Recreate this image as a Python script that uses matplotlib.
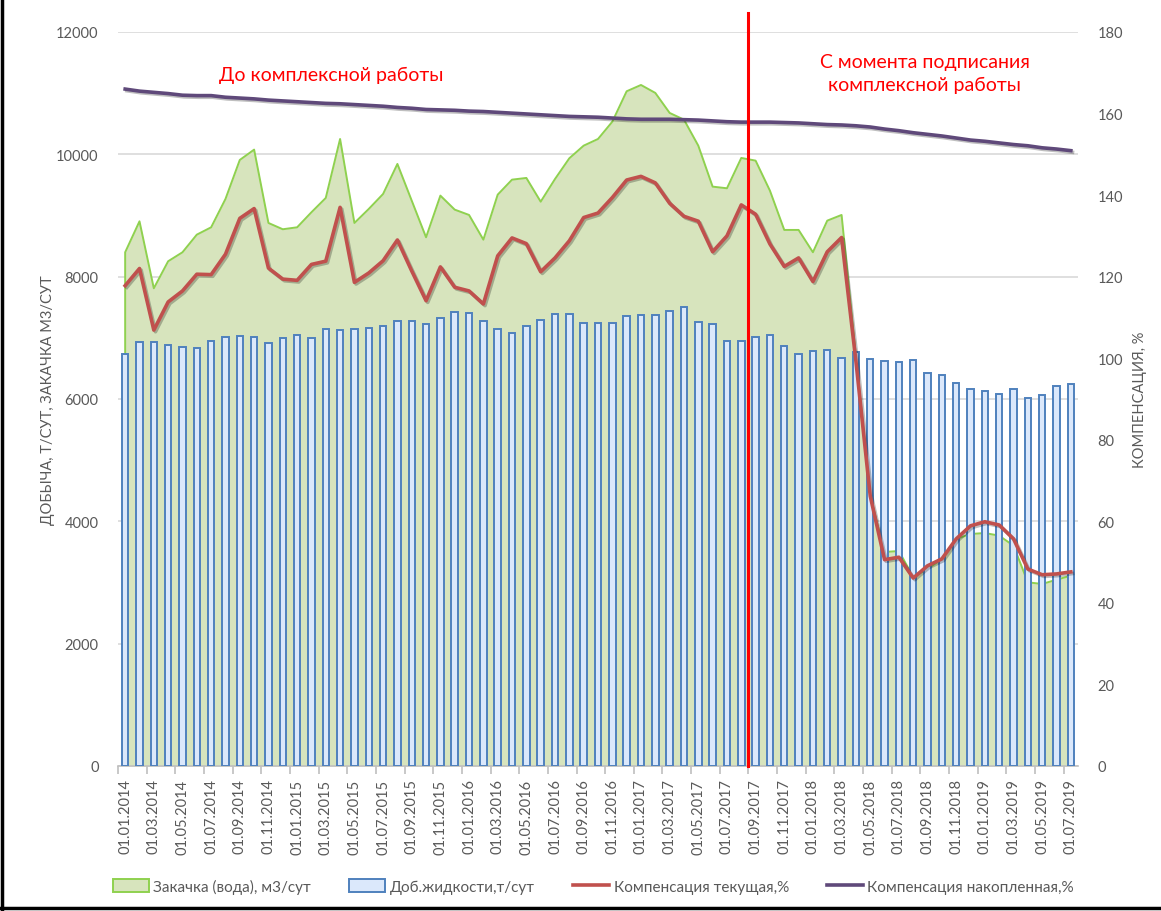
import matplotlib
matplotlib.use("Agg")
import matplotlib.pyplot as plt
import matplotlib.patheffects as pe
from matplotlib.patches import Patch
from matplotlib.lines import Line2D
import numpy as np

plt.rcParams['font.family'] = ['Lato', 'DejaVu Sans']

# ---------------- data ----------------
months = [f"01.{m:02d}.{y}" for y in range(2014, 2020) for m in range(1, 13)][:67]

injection = [8399, 8905, 7810, 8252, 8399, 8687, 8807, 9270, 9908, 10077,
             8878, 8775, 8807, 9053, 9287, 10251, 8878, 9107, 9352, 9843,
             9243, 8644, 9325, 9096, 9009, 8605, 9341, 9586, 9614, 9226,
             9597, 9936, 10142, 10251, 10534, 11031, 11134, 11004, 10677, 10567,
             10142, 9472, 9445, 9941, 9897, 9406, 8764, 8764, 8399, 8916,
             9009, 6700, 4414, 3499, 3515, 3090, 3221, 3384, 3711, 3793,
             3809, 3766, 3602, 3003, 2976, 3046, 3111]

liquid = [6736, 6927, 6927, 6878, 6851, 6834, 6954, 7014, 7030, 7014,
          6911, 6998, 7047, 6998, 7140, 7124, 7140, 7167, 7200, 7276,
          7276, 7232, 7320, 7418, 7401, 7276, 7140, 7080, 7189, 7292,
          7390, 7390, 7238, 7249, 7238, 7357, 7374, 7374, 7434, 7510,
          7259, 7221, 6954, 6943, 7014, 7047, 6862, 6736, 6785, 6802,
          6676, 6774, 6660, 6622, 6605, 6633, 6431, 6388, 6262, 6159,
          6126, 6077, 6170, 6017, 6061, 6218, 6246]

comp_current = [117.8, 122.0, 106.9, 113.8, 116.5, 120.6, 120.5, 125.5, 134.3, 136.7,
                122.1, 119.4, 119.1, 123.0, 123.8, 137.0, 118.6, 120.9, 123.9, 129.0,
                121.4, 114.1, 122.4, 117.4, 116.5, 113.3, 125.1, 129.5, 128.1, 121.2,
                124.6, 128.8, 134.5, 135.6, 139.4, 143.7, 144.6, 143.0, 138.0, 134.8,
                133.6, 126.1, 130.0, 137.6, 135.3, 128.0, 122.5, 124.6, 118.8, 126.1,
                129.6, 99.3, 66.2, 50.6, 51.2, 46.1, 49.1, 50.8, 55.7, 58.9,
                59.9, 59.1, 55.7, 48.3, 46.9, 47.1, 47.6]

comp_accum = [166.0, 165.5, 165.2, 164.9, 164.5, 164.4, 164.4, 164.0, 163.8, 163.6,
              163.3, 163.1, 162.9, 162.7, 162.5, 162.4, 162.2, 162.0, 161.8, 161.5,
              161.3, 161.0, 160.9, 160.8, 160.6, 160.5, 160.3, 160.1, 159.9, 159.7,
              159.5, 159.3, 159.2, 159.1, 158.9, 158.7, 158.6, 158.6, 158.6, 158.5,
              158.4, 158.2, 158.0, 157.9, 157.9, 157.9, 157.8, 157.7, 157.5, 157.3,
              157.2, 157.0, 156.7, 156.2, 155.8, 155.3, 154.9, 154.5, 154.0, 153.5,
              153.2, 152.8, 152.4, 152.1, 151.6, 151.3, 150.9]

left_ticks = [0, 2000, 4000, 6000, 8000, 10000, 12000]
right_ticks = [0, 20, 40, 60, 80, 100, 120, 140, 160, 180]
signing_pos = 43.5  # between 01.08.2017 and 01.09.2017

legend_labels = ["Закачка (вода), м3/сут", "Доб.жидкости,т/сут",
                 "Компенсация текущая,%", "Компенсация накопленная,%"]

# ---------------- styles ----------------
GRAY = '#595959'
GREEN_FILL = '#d7e4bd'
GREEN_LINE = '#8fd14f'
BAR_FACE = '#dbe8fb'
BAR_EDGE = '#4f81bd'
RED = '#c0504d'
PURPLE = '#5f497a'

fig = plt.figure(figsize=(11.61, 9.12), dpi=100)
ax = fig.add_axes([118/1161, 1-767/912, (1078-118)/1161, (767-33)/912])

x = np.arange(len(months))

# injection area
ax.fill_between(x, 0, injection, color=GREEN_FILL, lw=0, zorder=1)
ax.plot(np.r_[x[0], x, x[-1]], np.r_[0, injection, 0], color=GREEN_LINE, lw=1.4, zorder=2)

# liquid bars
ax.bar(x, liquid, width=0.45, color=BAR_FACE, edgecolor=BAR_EDGE, lw=1.4, zorder=3)

ax.set_xlim(-0.5, len(months) - 0.5)
ax.set_ylim(0, 12000)
ax.set_yticks(left_ticks)
ax.set_yticklabels([str(t) for t in left_ticks])
ax.yaxis.grid(True, color='#d9d9d9', lw=1.2, zorder=0)
ax.set_axisbelow(True)
for s in ['top', 'right', 'left']:
    ax.spines[s].set_visible(False)
ax.spines['bottom'].set_color('#bfbfbf')
ax.spines['bottom'].set_linewidth(1.2)

ax.set_xticks(x[::2])
ax.set_xticklabels(months[::2], rotation=90, color=GRAY, fontsize=10.5)
ax.tick_params(axis='x', which='major', length=0, pad=9)
ax.set_xticks(np.arange(-0.5, len(months), 2), minor=True)
ax.tick_params(axis='x', which='minor', length=6, color='#bfbfbf', width=1.2)
ax.tick_params(axis='y', length=0, pad=14, labelcolor=GRAY, labelsize=10.5)
ax.set_ylabel("ДОБЫЧА, Т/СУТ, ЗАКАЧКА М3/СУТ", color=GRAY, fontsize=10.5, labelpad=1)

# secondary axis
ax2 = ax.twinx()
ax2.set_ylim(0, 180)
ax2.set_yticks(right_ticks)
ax2.set_yticklabels([str(t) for t in right_ticks])
ax2.tick_params(axis='y', length=0, pad=14, labelcolor=GRAY, labelsize=10.5)
for s in ax2.spines.values():
    s.set_visible(False)
ax2.set_ylabel("КОМПЕНСАЦИЯ, %", color=GRAY, fontsize=10.5, labelpad=7)

shadow = [pe.SimpleLineShadow(offset=(1.2, -1.2), alpha=0.25, shadow_color='#000000'), pe.Normal()]
ax2.plot(x, comp_current, color=RED, lw=2.6, solid_joinstyle='round', path_effects=shadow, zorder=4)
ax2.plot(x, comp_accum, color=PURPLE, lw=2.6, solid_joinstyle='round', path_effects=shadow, zorder=4)

# signing line
ax2.plot([signing_pos, signing_pos], [0, 180 * (767 - 14) / 734], color='#ff0000', lw=2.2,
         clip_on=False, zorder=5)

ax2.text(14.4, 169.7, "До комплексной работы", color='#ff0000', fontsize=14,
         ha='center', va='center')
ax2.text(55.8, 170.0, "С момента подписания\nкомплексной работы", color='#ff0000',
         fontsize=14, ha='center', va='center', linespacing=1.45)

handles = [Patch(facecolor=GREEN_FILL, edgecolor=GREEN_LINE, lw=1.4),
           Patch(facecolor=BAR_FACE, edgecolor=BAR_EDGE, lw=1.4),
           Line2D([], [], color=RED, lw=2.6),
           Line2D([], [], color=PURPLE, lw=2.6)]
leg = fig.legend(handles, legend_labels, loc='center', bbox_to_anchor=(593.5/1161, 1 - 887/912),
                 ncol=4, frameon=False, fontsize=11, labelcolor=GRAY,
                 handlelength=2.35, handleheight=0.9, handletextpad=0.3, columnspacing=2.5)

# border of the screenshot
fig.add_artist(Line2D([1.5/1161, 1.5/1161], [0, 1], color='black', lw=2.5, transform=fig.transFigure))
fig.add_artist(Line2D([0, 1], [1 - 909/912, 1 - 909/912], color='black', lw=2.5, transform=fig.transFigure))

fig.savefig("out.png", dpi=100)
